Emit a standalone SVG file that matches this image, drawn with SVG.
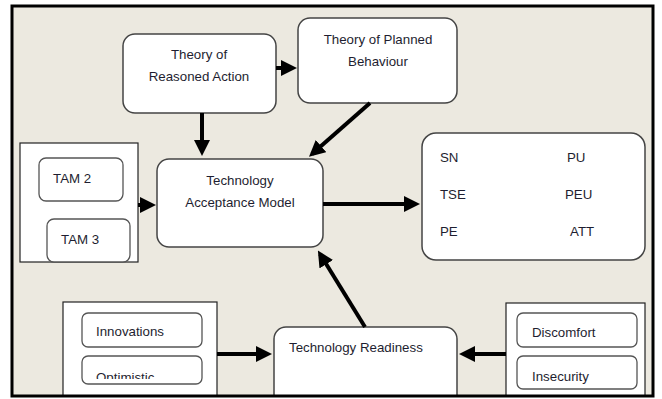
<svg xmlns="http://www.w3.org/2000/svg" width="662" height="399" viewBox="0 0 662 399">
<style>
.node{fill:#fff;stroke:#444;stroke-width:1.5}
.box{fill:#fff;stroke:#555;stroke-width:1.3}
.cont{fill:#fff;stroke:#222;stroke-width:1.2}
.t{font-family:"Liberation Sans",Arial,sans-serif;font-size:13.3px;fill:#1e1e30}
.m{text-anchor:middle}
.c{stroke:#000;stroke-width:4;fill:none;marker-end:url(#ah)}
</style>
<defs>
<marker id="ah" markerWidth="4" markerHeight="4" refX="3" refY="2" orient="auto" markerUnits="strokeWidth" viewBox="0 0 4 4">
<path d="M0,0 L4,2 L0,4 Z" fill="#000"/>
</marker>
<clipPath id="frame"><rect x="12" y="6" width="641" height="390"/></clipPath>
<clipPath id="optclip"><rect x="82" y="356" width="120" height="23"/></clipPath>
</defs>
<rect x="0" y="0" width="662" height="399" fill="#fff"/>
<rect x="12" y="6" width="641" height="390" fill="#ECE9E0"/>
<g clip-path="url(#frame)">
<g id="tra"><rect class="node" x="123" y="34" width="153" height="79" rx="12"/>
<text class="t m" x="199" y="59">Theory of</text><text class="t m" x="199" y="81">Reasoned Action</text></g>
<g id="tpb"><rect class="node" x="298" y="18" width="159" height="85" rx="12"/>
<text class="t m" x="378" y="44">Theory of Planned</text><text class="t m" x="378" y="66">Behaviour</text></g>
<g id="tamgroup"><rect class="cont" x="20" y="143" width="118" height="119"/>
<g id="tam2"><rect class="box" x="39" y="158" width="84" height="43" rx="7"/><text class="t" x="53" y="183">TAM 2</text></g>
<g id="tam3"><rect class="box" x="47" y="219" width="83" height="43" rx="7"/><text class="t" x="61" y="244">TAM 3</text></g></g>
<g id="tam"><rect class="node" x="157" y="159" width="166" height="88" rx="12"/>
<text class="t m" x="240" y="185">Technology</text><text class="t m" x="240" y="207">Acceptance Model</text></g>
<g id="constructs"><rect class="node" x="422" y="133" width="223" height="127" rx="14"/>
<text class="t" x="440" y="162">SN</text><text class="t" x="567" y="162">PU</text>
<text class="t" x="440" y="199">TSE</text><text class="t" x="565" y="199">PEU</text>
<text class="t" x="440" y="236">PE</text><text class="t" x="570" y="236">ATT</text></g>
<g id="tr"><rect class="node" x="274" y="327" width="183" height="85" rx="12"/>
<text class="t" x="289" y="352">Technology Readiness</text></g>
<g id="posgroup"><rect class="cont" x="63" y="302" width="154" height="110"/>
<g id="innov"><rect class="box" x="82" y="313" width="120" height="34" rx="6"/><text class="t" x="96" y="336">Innovations</text></g>
<g id="optim"><rect class="box" x="82" y="356" width="120" height="28" rx="6"/><text class="t" x="96" y="382" clip-path="url(#optclip)">Optimistic</text></g></g>
<g id="neggroup"><rect class="cont" x="506" y="303" width="139" height="110"/>
<g id="disc"><rect class="box" x="517" y="313" width="120" height="34" rx="6"/><text class="t" x="532" y="337">Discomfort</text></g>
<g id="insec"><rect class="box" x="517" y="356" width="120" height="33" rx="6"/><text class="t" x="532" y="381">Insecurity</text></g></g>
<g id="connectors">
<line class="c" x1="276" y1="68" x2="293" y2="68"/>
<line class="c" x1="202" y1="113" x2="202" y2="152"/>
<line class="c" x1="370" y1="103" x2="312" y2="154"/>
<line class="c" x1="138" y1="205" x2="152" y2="205"/>
<line class="c" x1="323" y1="204" x2="416" y2="204"/>
<line class="c" x1="365" y1="327" x2="320" y2="254"/>
<line class="c" x1="217" y1="354" x2="268" y2="354"/>
<line class="c" x1="506" y1="354" x2="463" y2="354"/>
</g>
</g>
<rect x="12" y="6" width="641" height="390" fill="none" stroke="#000" stroke-width="3"/>
</svg>
